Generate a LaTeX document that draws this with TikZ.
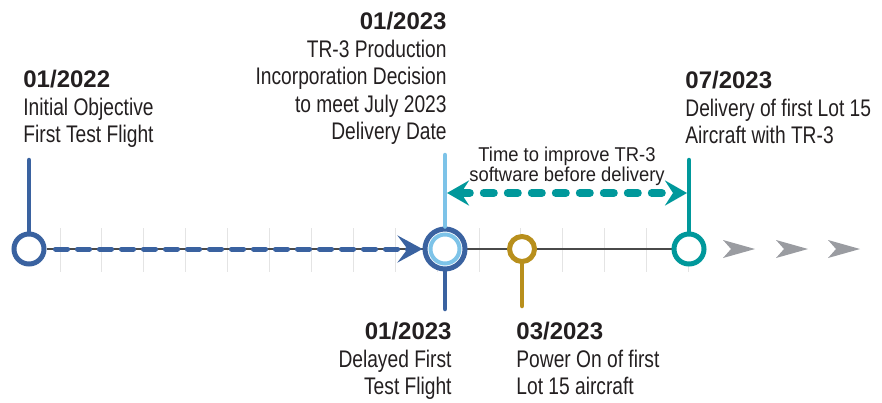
\documentclass[tikz,border=0pt]{standalone}
\usepackage{fontspec}
\setmainfont{Liberation Sans}
\newfontfamily\narrowfont{Liberation Sans}[FakeStretch=0.8]
\newfontfamily\midfont{Liberation Sans}[FakeStretch=0.92]
\usepackage{tikz}
\usetikzlibrary{arrows.meta,backgrounds}

\definecolor{navy}{HTML}{3A62A0}
\definecolor{skyblue}{HTML}{7DC3E8}
\definecolor{tealc}{HTML}{00989B}
\definecolor{goldc}{HTML}{B88F1C}
\definecolor{arrowgray}{HTML}{9A9CA1}
\definecolor{tickgray}{HTML}{E4E4E4}
\definecolor{linegray}{HTML}{4A4A4A}
\definecolor{textgray}{HTML}{231F20}

\newcommand{\datetxt}[1]{{\rmfamily\bfseries #1}}

\begin{document}
\begin{tikzpicture}[x=0.5pt, y=-0.5pt,
    txt/.style={font=\narrowfont\fontsize{12}{13.75}\selectfont, text=textgray, inner sep=0pt},
    milestone/.style={circle, draw=#1, line width=2.5pt, fill=white, inner sep=0pt},
    stem/.style={draw=#1, line width=2.25pt, line cap=round}]
\useasboundingbox (0,0) rectangle (882,402);

% milestones
\node[milestone=navy, minimum size=15pt] (m22) at (29,249) {};
\node[milestone=navy, minimum size=20pt] (m23) at (445,249) {};
\node[milestone=goldc, minimum size=12.5pt] (m23b) at (522,249) {};
\node[milestone=tealc, minimum size=15pt] (m23c) at (689,249) {};

\coordinate (s22) at (29,160);
\coordinate (s23up) at (445,155);
\coordinate (s23dn) at (445,309);
\coordinate (s23b) at (522,306);
\coordinate (s23c) at (689,160);
\coordinate (gapL) at (445,193);
\coordinate (gapR) at (689,193);

\begin{scope}[on background layer]
    \foreach \i in {0,...,15}
        \draw[tickgray, line width=0.5pt] ({60+41.9*\i},228) -- ({60+41.9*\i},272);
    \draw[linegray, line width=0.6pt] (m22) -- (m23c);
    \draw[navy, line width=2.5pt, line cap=round, dash pattern=on 6pt off 5pt, shorten <=4.5pt,
        -{Stealth[length=12.5pt, width=13.5pt, inset=5pt]}] (m22.east) -- (m23.west);
    \draw[stem=navy] (m22) -- (s22);
    \draw[stem=navy] (m23) -- (s23dn);
    \draw[stem=goldc] (m23b) -- (s23b);
    \draw[stem=tealc] (m23c) -- (s23c);
\end{scope}

\draw[stem=skyblue] (m23) -- (s23up);
\node[milestone=skyblue, line width=2pt, minimum size=14.5pt] (m23in) at (m23) {};

\draw[tealc, line width=4pt, line cap=round, dash pattern=on 5pt off 7pt, shorten <=1pt, shorten >=1pt,
    {Stealth[length=11pt, width=12.5pt, inset=4pt]}-{Stealth[length=11pt, width=12.5pt, inset=4pt]}] (gapL) -- (gapR);

% future
\foreach \x in {723,776,828}
    \fill[arrowgray] (\x,240) -- (\x+32,249) -- (\x,258) -- (\x+8,249) -- cycle;

% labels
\node[txt, anchor=north west, align=left] (t22) at (23,70) {\datetxt{01/2022}\\Initial Objective\\First Test Flight};
\node[txt, anchor=north east, align=right] (t23) at (447,12) {\datetxt{01/2023}\\TR-3 Production\\Incorporation Decision\\to meet July 2023\\Delivery Date};
\node[txt, anchor=north east, align=right] (t23d) at (452,322) {\datetxt{01/2023}\\Delayed First\\Test Flight};
\node[txt, anchor=north west, align=left] (t23p) at (516,322) {\datetxt{03/2023}\\Power On of first\\Lot 15 aircraft};
\node[txt, anchor=north west, align=left] (t23v) at (685,71) {\datetxt{07/2023}\\Delivery of first Lot 15\\Aircraft with TR-3};
\node[font=\midfont\fontsize{10}{9.7}\selectfont, text=textgray, inner sep=0pt, anchor=north, align=center] (gap) at (567,147) {Time to improve TR-3\\software before delivery};
\end{tikzpicture}
\end{document}
